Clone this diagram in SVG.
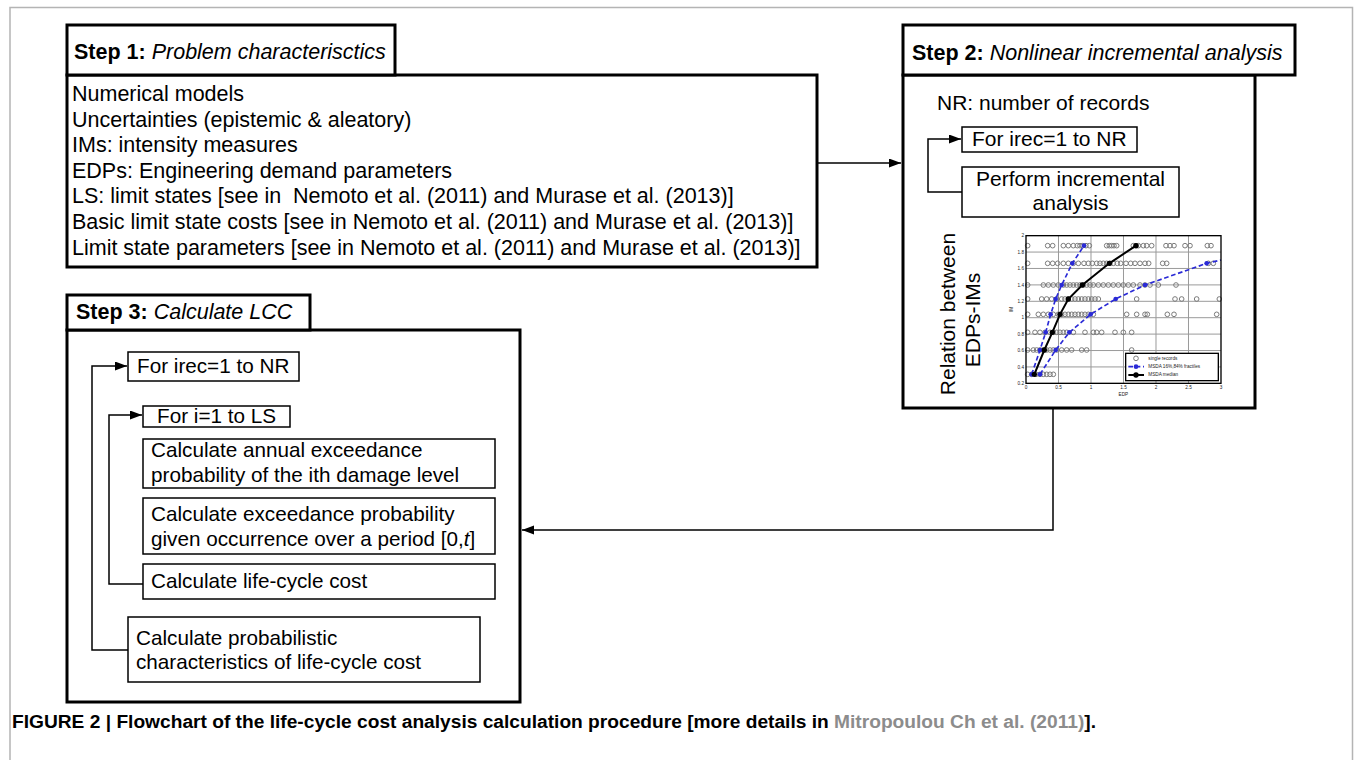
<svg xmlns="http://www.w3.org/2000/svg" width="1355" height="760" viewBox="0 0 1355 760">
<style>
.t{font-family:'Liberation Sans',Arial,Helvetica,sans-serif;font-size:21px;fill:#000}
.L{font-size:21.5px}
.s{font-size:20.7px}
.b{font-weight:bold}
.i{font-style:italic}
.frame{fill:#fff;stroke:#000;stroke-width:3}
.box{fill:#fff;stroke:#000;stroke-width:1.5}
.conn{fill:none;stroke:#000;stroke-width:1.5}
.ct{font-family:'Liberation Sans',Arial,sans-serif;font-size:14px;fill:#222}
.grid{stroke:#9a9a9a;stroke-width:3}
.cap{font-family:'Liberation Sans',Arial,Helvetica,sans-serif;font-size:18px;font-weight:bold;fill:#000}
</style>
<defs>
<marker id="arr" markerUnits="userSpaceOnUse" markerWidth="13" markerHeight="10" refX="12" refY="4.5" orient="auto">
<path d="M0,0 L12,4.5 L0,9 z" fill="#000"/>
</marker>
<marker id="rec" markerUnits="userSpaceOnUse" markerWidth="20" markerHeight="20" refX="10" refY="10">
<circle cx="10" cy="10" r="7" fill="none" stroke="#7a7a7a" stroke-width="3"/>
</marker>
<marker id="bm" markerUnits="userSpaceOnUse" markerWidth="20" markerHeight="20" refX="10" refY="10">
<circle cx="10" cy="10" r="8" fill="#000"/>
</marker>
<marker id="um" markerUnits="userSpaceOnUse" markerWidth="20" markerHeight="20" refX="10" refY="10">
<circle cx="10" cy="10" r="7" fill="#2a2ad6"/>
</marker>
</defs>
<rect width="1355" height="760" fill="#fff"/>
<path d="M10,770 V7.5 H1352.5 V770" fill="none" stroke="#b4b4b4" stroke-width="1.5"/>

<g id="step1">
<rect class="frame" x="67" y="75" width="750" height="192"/>
<rect class="frame" x="67" y="25" width="328" height="50"/>
<text class="t L" x="74" y="59"><tspan class="b">Step 1:</tspan> <tspan class="i">Problem characterisctics</tspan></text>
<text class="t L" x="72" y="101">Numerical models</text>
<text class="t L" x="72" y="126.6">Uncertainties (epistemic &amp; aleatory)</text>
<text class="t L" x="72" y="152.2">IMs: intensity measures</text>
<text class="t L" x="72" y="177.8">EDPs: Engineering demand parameters</text>
<text class="t L" x="72" y="203.4" xml:space="preserve">LS: limit states [see in  Nemoto et al. (2011) and Murase et al. (2013)]</text>
<text class="t L" x="72" y="229">Basic limit state costs [see in Nemoto et al. (2011) and Murase et al. (2013)]</text>
<text class="t L" x="72" y="254.6">Limit state parameters [see in Nemoto et al. (2011) and Murase et al. (2013)]</text>
</g>

<g id="step2">
<rect class="frame" x="903" y="75" width="352" height="333"/>
<rect class="frame" x="903" y="25" width="392" height="50"/>
<text class="t L" x="912" y="60"><tspan class="b">Step 2:</tspan> <tspan class="i">Nonlinear incremental analysis</tspan></text>
<text class="t" x="937" y="110">NR: number of records</text>
</g>
<g id="step2-loop">
<rect class="box" x="962" y="127" width="175" height="25"/>
<text class="t" x="972" y="146">For irec=1 to NR</text>
</g>
<g id="step2-perform">
<rect class="box" x="962" y="167" width="217" height="50"/>
<text class="t" x="1070.5" y="186" text-anchor="middle">Perform incremental</text>
<text class="t" x="1070.5" y="210" text-anchor="middle">analysis</text>
</g>
<g id="step2-chart">
<text class="t" transform="translate(955 314) rotate(-90)" text-anchor="middle">Relation between</text>
<text class="t" transform="translate(980 320) rotate(-90)" text-anchor="middle">EDPs-IMs</text>
<g transform="translate(880 220) scale(0.33333)">
<rect x="438" y="47" width="585" height="443" fill="#fff"/>
<g class="grid">
<line x1="535.5" y1="47" x2="535.5" y2="490"/>
<line x1="633" y1="47" x2="633" y2="490"/>
<line x1="730.5" y1="47" x2="730.5" y2="490"/>
<line x1="828" y1="47" x2="828" y2="490"/>
<line x1="925.5" y1="47" x2="925.5" y2="490"/>
<line x1="438" y1="440.8" x2="1023" y2="440.8"/>
<line x1="438" y1="391.6" x2="1023" y2="391.6"/>
<line x1="438" y1="342.3" x2="1023" y2="342.3"/>
<line x1="438" y1="293.1" x2="1023" y2="293.1"/>
<line x1="438" y1="243.9" x2="1023" y2="243.9"/>
<line x1="438" y1="194.7" x2="1023" y2="194.7"/>
<line x1="438" y1="145.4" x2="1023" y2="145.4"/>
<line x1="438" y1="96.2" x2="1023" y2="96.2"/>
</g>
<g fill="none" stroke="none">
<polyline marker-start="url(#rec)" marker-mid="url(#rec)" marker-end="url(#rec)" points="443,77 503,77 518,77 550,77 565,77 580,77 592,77 600,77 608,77 618,77 628,77 680,77 688,77 695,77 702,77 710,77 760,77 768,77 775,77 790,77 800,77 815,77 858,77 870,77 882,77 915,77 930,77 982,77 993,77"/>
<polyline marker-start="url(#rec)" marker-mid="url(#rec)" marker-end="url(#rec)" points="443,130 503,130 518,130 533,130 550,130 565,130 580,130 595,130 612,130 625,130 637,130 650,130 660,130 670,130 680,130 690,130 700,130 712,130 722,130 738,130 752,130 765,130 780,130 795,130 806,130 848,130 860,130 985,130 1000,130"/>
<polyline marker-start="url(#rec)" marker-mid="url(#rec)" marker-end="url(#rec)" points="443,195 490,195 505,195 520,195 535,195 550,195 560,195 570,195 580,195 590,195 600,195 610,195 620,195 630,195 640,195 655,195 670,195 685,195 700,195 715,195 730,195 745,195 760,195 780,195 795,195 810,195 835,195 888,195"/>
<polyline marker-start="url(#rec)" marker-mid="url(#rec)" marker-end="url(#rec)" points="443,237 485,237 500,237 515,237 530,237 545,237 555,237 565,237 575,237 585,237 595,237 605,237 615,237 625,237 635,237 645,237 655,237 770,237 885,237 905,237 950,237 1018,237"/>
<polyline marker-start="url(#rec)" marker-mid="url(#rec)" marker-end="url(#rec)" points="443,283 475,283 490,283 505,283 520,283 535,283 545,283 555,283 565,283 575,283 585,283 595,283 605,283 615,283 625,283 640,283 740,283 770,283 795,283 802,283 862,283 882,283 1010,283"/>
<polyline marker-start="url(#rec)" marker-mid="url(#rec)" marker-end="url(#rec)" points="443,337 465,337 480,337 495,337 510,337 520,337 530,337 540,337 550,337 560,337 580,337 615,337 640,337 650,337 665,337 705,337 730,337 755,337"/>
<polyline marker-start="url(#rec)" marker-mid="url(#rec)" marker-end="url(#rec)" points="443,390 460,390 470,390 480,390 490,390 500,390 510,390 520,390 530,390 545,390 560,390 575,390 605,390 620,390 755,390"/>
<polyline marker-start="url(#rec)" marker-mid="url(#rec)" marker-end="url(#rec)" points="443,463 455,463 468,463 480,463 490,463 500,463 510,463 520,463"/>
</g>
<polyline fill="none" stroke="#2a2ad6" stroke-width="5" stroke-dasharray="14 8" marker-start="url(#um)" marker-mid="url(#um)" marker-end="url(#um)" points="455,463 480,390 497,337 512,283 527,237 545,195 577,130 612,77"/>
<polyline fill="none" stroke="#2a2ad6" stroke-width="5" stroke-dasharray="14 8" marker-start="url(#um)" marker-mid="url(#um)" points="480,463 527,390 568,337 632,283 707,237 795,195 980,130 1023,120"/>
<polyline fill="none" stroke="#000" stroke-width="6" marker-start="url(#bm)" marker-mid="url(#bm)" marker-end="url(#bm)" points="463,463 493,390 517,337 540,283 565,237 607,195 688,130 768,77"/>
<rect x="438" y="47" width="585" height="443" fill="none" stroke="#000" stroke-width="4"/>
<g class="ct" text-anchor="end">
<text x="432" y="52">2</text>
<text x="432" y="101">1.8</text>
<text x="432" y="150">1.6</text>
<text x="432" y="200">1.4</text>
<text x="432" y="249">1.2</text>
<text x="432" y="298">1</text>
<text x="432" y="347">0.8</text>
<text x="432" y="396">0.6</text>
<text x="432" y="446">0.4</text>
<text x="432" y="495">0.2</text>
</g>
<g class="ct" text-anchor="middle">
<text x="438" y="508">0</text>
<text x="535.5" y="508">0.5</text>
<text x="633" y="508">1</text>
<text x="730.5" y="508">1.5</text>
<text x="828" y="508">2</text>
<text x="925.5" y="508">2.5</text>
<text x="1023" y="508">3</text>
<text x="730" y="528">EDP</text>
<text transform="translate(400 268) rotate(-90)">IM</text>
</g>
<rect x="737" y="400" width="278" height="82" fill="#fff" stroke="#000" stroke-width="4"/>
<polyline fill="none" stroke="none" marker-start="url(#rec)" points="768,415 769,415"/>
<polyline fill="none" stroke="#2a2ad6" stroke-width="5" stroke-dasharray="14 8" marker-mid="url(#um)" points="745,440 768,440 792,440"/>
<polyline fill="none" stroke="#000" stroke-width="6" marker-mid="url(#bm)" points="745,465 768,465 792,465"/>
<g class="ct" font-size="12">
<text x="805" y="419">single records</text>
<text x="805" y="444">MSDA 16%,84% fractiles</text>
<text x="805" y="469">MSDA median</text>
</g>
</g>
</g>

<g id="step3">
<rect class="frame" x="67" y="330" width="453" height="372"/>
<rect class="frame" x="67" y="295" width="243" height="35"/>
<text class="t L" x="76" y="319"><tspan class="b">Step 3:</tspan> <tspan class="i">Calculate LCC</tspan></text>
</g>
<g id="step3-irec">
<rect class="box" x="128" y="352" width="171" height="29"/>
<text class="t s" x="137" y="373">For irec=1 to NR</text>
</g>
<g id="step3-i">
<rect class="box" x="143" y="406" width="147" height="21"/>
<text class="t s" x="157" y="423">For i=1 to LS</text>
</g>
<g id="step3-annual">
<rect class="box" x="143" y="439" width="352" height="49"/>
<text class="t s" x="151" y="457">Calculate annual exceedance</text>
<text class="t s" x="151" y="482">probability of the ith damage level</text>
</g>
<g id="step3-exceed">
<rect class="box" x="143" y="498" width="352" height="56"/>
<text class="t s" x="151" y="521">Calculate exceedance probability</text>
<text class="t s" x="151" y="545.5">given occurrence over a period [0,<tspan class="i">t</tspan>]</text>
</g>
<g id="step3-lcc">
<rect class="box" x="143" y="564" width="352" height="35"/>
<text class="t s" x="151" y="588">Calculate life-cycle cost</text>
</g>
<g id="step3-prob">
<rect class="box" x="128" y="617" width="352" height="65"/>
<text class="t s" x="136" y="645">Calculate probabilistic</text>
<text class="t s" x="136" y="669">characteristics of life-cycle cost</text>
</g>

<g id="connectors">
<path class="conn" d="M817,163 H901" marker-end="url(#arr)"/>
<path class="conn" d="M1053,408 V530 H522" marker-end="url(#arr)"/>
<path class="conn" d="M962,192 H928 V139 H961" marker-end="url(#arr)"/>
<path class="conn" d="M128,650 H92 V366 H127" marker-end="url(#arr)"/>
<path class="conn" d="M143,584 H109 V415 H142" marker-end="url(#arr)"/>
</g>

<g id="caption">
<text class="cap" x="12" y="728" textLength="1084" lengthAdjust="spacingAndGlyphs">FIGURE 2 | Flowchart of the life-cycle cost analysis calculation procedure [more details in <tspan fill="#8c8c8c">Mitropoulou Ch et al. (2011)</tspan>].</text>
</g>
</svg>
